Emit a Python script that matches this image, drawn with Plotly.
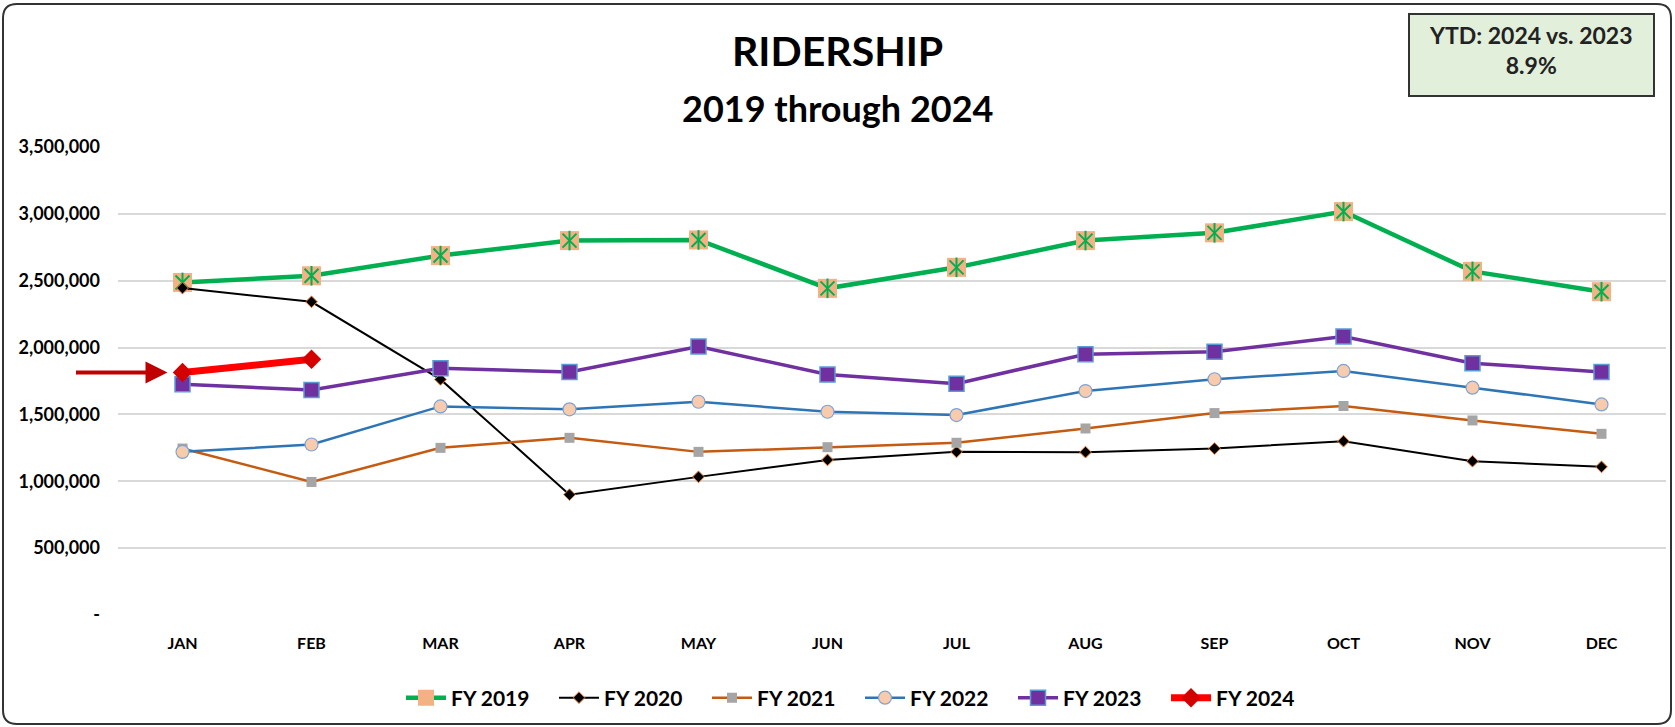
import plotly.graph_objects as go

months = ["JAN", "FEB", "MAR", "APR", "MAY", "JUN", "JUL", "AUG", "SEP", "OCT", "NOV", "DEC"]

fy2019 = [2487000, 2537000, 2688000, 2800000, 2805000, 2443000, 2600000, 2800000, 2858000, 3017000, 2570000, 2418000]
fy2020 = [2445000, 2342000, 1762000, 900000, 1033000, 1160000, 1220000, 1218000, 1245000, 1300000, 1150000, 1108000]
fy2021 = [1245000, 995000, 1250000, 1325000, 1220000, 1255000, 1288000, 1395000, 1510000, 1563000, 1455000, 1355000]
fy2022 = [1220000, 1275000, 1560000, 1538000, 1595000, 1520000, 1495000, 1675000, 1763000, 1825000, 1700000, 1575000]
fy2023 = [1725000, 1683000, 1845000, 1818000, 2008000, 1798000, 1730000, 1950000, 1968000, 2083000, 1883000, 1818000]
fy2024 = [1813000, 1913000]

y_ticks = [0, 500000, 1000000, 1500000, 2000000, 2500000, 3000000, 3500000]
y_tick_labels = ["-", "500,000", "1,000,000", "1,500,000", "2,000,000", "2,500,000", "3,000,000", "3,500,000"]

title_text = "RIDERSHIP"
subtitle_text = "2019 through 2024"
ytd_text = "YTD: 2024 vs. 2023<br>8.9%"

FONT = "Lato"
W, H = 1675, 727
L, R, T, B = 118, 9, 147, 112
PW = W - L - R
PH = H - T - B


def px(x):
    return (x - L) / PW


def py(y):
    return (H - B - y) / PH


fig = go.Figure()

fig.add_trace(go.Scatter(
    x=months, y=fy2019, name="FY 2019", mode="lines+markers",
    line=dict(color="#00B050", width=4.5),
    marker=dict(symbol="square", size=19, color="#F4B183", line=dict(width=0)),
))
fig.add_trace(go.Scatter(
    x=months, y=fy2019, name="FY 2019", mode="markers", showlegend=False,
    marker=dict(symbol="x-thin-open", size=14, color="#00B050", line=dict(color="#00B050", width=2)),
))
fig.add_trace(go.Scatter(
    x=months, y=fy2019, name="FY 2019", mode="markers", showlegend=False,
    marker=dict(symbol="line-ns-open", size=14, color="#00B050", line=dict(color="#00B050", width=2)),
))
fig.add_trace(go.Scatter(
    x=months, y=fy2020, name="FY 2020", mode="lines+markers",
    line=dict(color="#000000", width=2),
    marker=dict(symbol="diamond", size=9, color="#000000", line=dict(color="#ED7D31", width=1)),
))
fig.add_trace(go.Scatter(
    x=months, y=fy2021, name="FY 2021", mode="lines+markers",
    line=dict(color="#C55A11", width=2.5),
    marker=dict(symbol="square", size=10, color="#A5A5A5", line=dict(width=0)),
))
fig.add_trace(go.Scatter(
    x=months, y=fy2022, name="FY 2022", mode="lines+markers",
    line=dict(color="#2E75B6", width=2.5),
    marker=dict(symbol="circle", size=13, color="#F8CBAD", line=dict(color="#7FA3D6", width=1.2)),
))
fig.add_trace(go.Scatter(
    x=months, y=fy2023, name="FY 2023", mode="lines+markers",
    line=dict(color="#7030A0", width=3.5),
    marker=dict(symbol="square", size=15, color="#7030A0", line=dict(color="#5B9BD5", width=1.5)),
))
fig.add_trace(go.Scatter(
    x=months[:len(fy2024)], y=fy2024, name="FY 2024", mode="lines+markers",
    line=dict(color="#FF0000", width=7),
    marker=dict(symbol="diamond", size=15, color="#D40000", line=dict(width=0)),
))

# arrow pointing at Jan 2024
fig.add_annotation(
    x=months[0], y=fy2024[0], xref="x", yref="y", text="",
    showarrow=True, ax=-108, ay=0, axref="pixel", ayref="pixel",
    arrowhead=2, arrowsize=1.1, arrowwidth=4, arrowcolor="#C00000", standoff=15,
)

# title and subtitle
fig.add_annotation(x=px(837), y=py(50), xref="paper", yref="paper", text=f"<b>{title_text}</b>",
                   showarrow=False, xanchor="center", yanchor="middle",
                   font=dict(family=FONT, size=41, color="#000000"))
fig.add_annotation(x=px(837), y=py(108), xref="paper", yref="paper", text=f"<b>{subtitle_text}</b>",
                   showarrow=False, xanchor="center", yanchor="middle",
                   font=dict(family=FONT, size=36, color="#000000"))

# YTD box
fig.add_shape(type="rect", xref="paper", yref="paper",
              x0=px(1409), x1=px(1654), y0=py(96), y1=py(14),
              fillcolor="#E2EFDA", line=dict(color="#333333", width=2), layer="above")
fig.add_annotation(x=px(1531), y=py(50), xref="paper", yref="paper", text=f"<b>{ytd_text}</b>",
                   showarrow=False, xanchor="center", yanchor="middle", align="center",
                   font=dict(family=FONT, size=23, color="#222222"))

# outer rounded frame
x0, x1, y0, y1, r = 3, 1671, 4, 724, 14
path = (f"M {px(x0 + r)},{py(y0)} L {px(x1 - r)},{py(y0)} Q {px(x1)},{py(y0)} {px(x1)},{py(y0 + r)} "
        f"L {px(x1)},{py(y1 - r)} Q {px(x1)},{py(y1)} {px(x1 - r)},{py(y1)} "
        f"L {px(x0 + r)},{py(y1)} Q {px(x0)},{py(y1)} {px(x0)},{py(y1 - r)} "
        f"L {px(x0)},{py(y0 + r)} Q {px(x0)},{py(y0)} {px(x0 + r)},{py(y0)} Z")
fig.add_shape(type="path", xref="paper", yref="paper", path=path,
              line=dict(color="#333333", width=2), fillcolor="rgba(0,0,0,0)")

fig.update_layout(
    width=W, height=H,
    margin=dict(l=L, r=R, t=T, b=B, pad=0, autoexpand=False),
    paper_bgcolor="white", plot_bgcolor="white",
    font=dict(family=FONT, color="#000000"),
    showlegend=True,
    legend=dict(
        orientation="h", xref="container", yref="container",
        x=401 / W, xanchor="left", y=1 - 698 / H, yanchor="middle",
        font=dict(family=FONT, size=21, color="#000000", weight="bold"),
        entrywidth=98, entrywidthmode="pixels", itemwidth=40,
        bgcolor="rgba(0,0,0,0)",
    ),
    xaxis=dict(
        type="category", categoryorder="array", categoryarray=months,
        range=[-0.5, 11.5], showgrid=False, zeroline=False, showline=False,
        ticks="", ticklabelstandoff=17,
        tickfont=dict(family=FONT, size=16, color="#000000", weight="bold"),
    ),
    yaxis=dict(
        range=[0, 3500000], tickvals=y_ticks, ticktext=y_tick_labels,
        showgrid=True, gridcolor="#D9D9D9", gridwidth=1.5, zeroline=False, showline=False,
        ticks="", ticklabelstandoff=17,
        tickfont=dict(family=FONT, size=18, color="#000000", weight="bold"),
    ),
)

fig.write_html(
    "out.html",
    config={"displayModeBar": False},
    post_script="document.body.style.margin='0';document.body.style.overflow='hidden';",
)
